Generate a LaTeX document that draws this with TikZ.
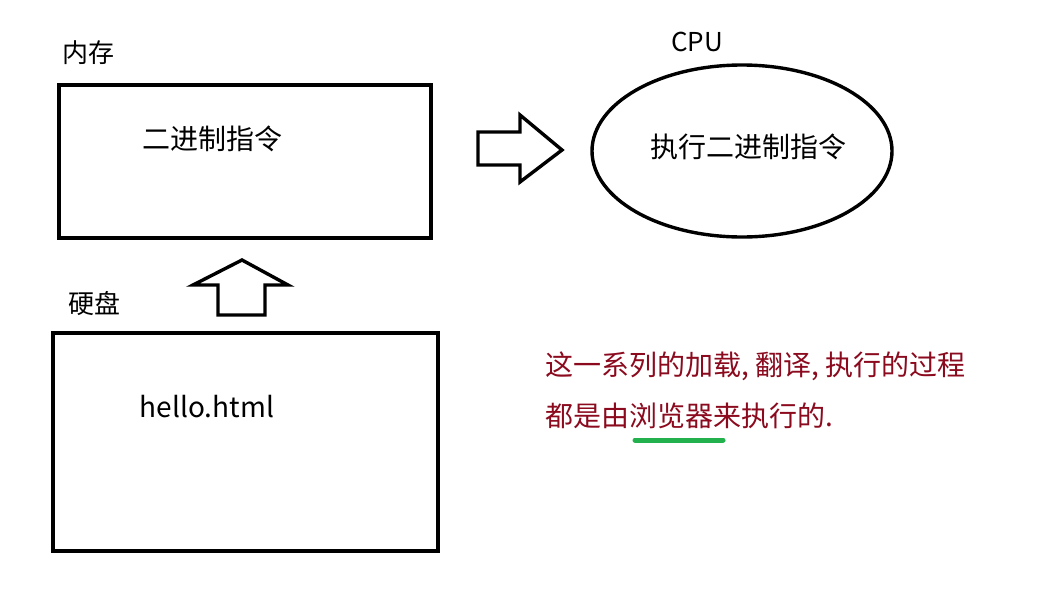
\documentclass[tikz,border=0pt]{standalone}
\usepackage{fontspec}
\setmainfont{Noto Sans CJK SC}
\usetikzlibrary{shapes.geometric}
\definecolor{noteRed}{HTML}{8B0A1E}
\definecolor{markGreen}{HTML}{22B14C}
\tikzset{
  box/.style={draw, line width=3.4pt*0.75, rectangle},
  lbl/.style={inner sep=0pt, anchor=center},
  big/.style={font=\fontsize{19.5pt}{24pt}\selectfont},
  mid/.style={font=\fontsize{21pt}{24pt}\selectfont},
  blockarrow/.style={draw, line width=3.4pt*0.75, line join=miter, fill=white},
  note/.style={inner sep=0pt, anchor=west, text=noteRed, font=\fontsize{21pt}{24pt}\selectfont}
}
\begin{document}
\begin{tikzpicture}[x=0.75pt,y=-0.75pt]
\path[use as bounding box, fill=white] (0,0) rectangle (1062,589);
% memory
\node[box, minimum width=372*0.75pt, minimum height=153*0.75pt] (mem) at (245,161.5) {};
\node[lbl, big] (memlbl) at (88,53) {内存};
\node[lbl, mid] (memtxt) at (212,139) {二进制指令};
% CPU
\node[draw, ellipse, line width=3.4pt*0.75, minimum width=300*0.75pt, minimum height=172*0.75pt, inner sep=0pt] (cpu) at (742,151) {};
\node[lbl, big] (cpulbl) at (697,42) {CPU};
\node[lbl, mid] (cputxt) at (748,147) {执行二进制指令};
% disk
\node[box, minimum width=385*0.75pt, minimum height=218*0.75pt] (disk) at (245.5,442) {};
\node[lbl, big] (disklbl) at (94,304) {硬盘};
\node[lbl, mid] (disktxt) at (207,407) {hello.html};
% block arrows
\draw[blockarrow] (478,132) -- (520,132) -- (520,115) -- (562,150) -- (520,182) -- (520,165) -- (478,165) -- cycle;
\draw[blockarrow] (218,315) -- (218,285) -- (193,285) -- (242,260) -- (288,285) -- (265,285) -- (265,315) -- cycle;
% note
\node[note] (note1) at (545,366) {这一系列的加载, 翻译, 执行的过程};
\node[note] (note2) at (545,416) {都是由浏览器来执行的.};
\coordinate (ulA) at (635,440);
\coordinate (ulB) at (723,440);
\draw[markGreen, line width=5pt*0.75, line cap=round] (ulA) -- (ulB);
\end{tikzpicture}
\end{document}
